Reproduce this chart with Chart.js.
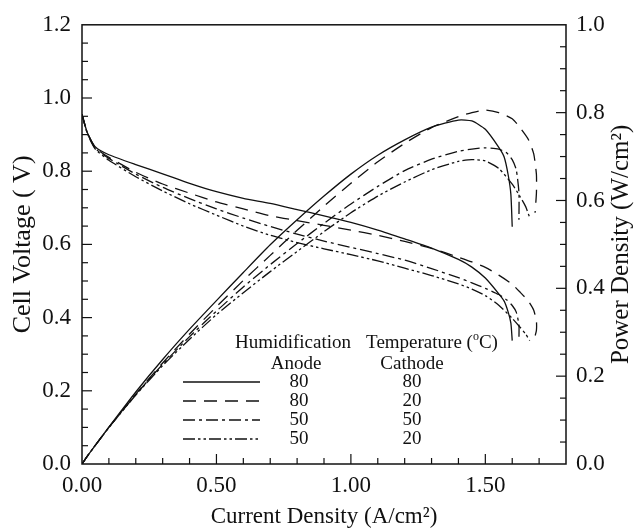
<!DOCTYPE html>
<html><head><meta charset="utf-8">
<script src="https://cdn.jsdelivr.net/npm/chart.js@4.4.1/dist/chart.umd.min.js"></script>
<style>html,body{margin:0;padding:0;background:#fff;}#wrap{width:640px;height:531px;}</style>
</head><body><div id="wrap"><canvas id="c" width="640" height="531"></canvas></div>
<script>
// ---- Data ----
// Series A: anode 80 / cathode 80 (solid)
const currentA = [0, 0.02, 0.05, 0.1, 0.2, 0.3, 0.4, 0.5, 0.6, 0.7, 0.8, 0.9, 1.0, 1.1, 1.2, 1.3, 1.4, 1.45, 1.5, 1.55, 1.57, 1.585, 1.595, 1.6];
const voltageA = [0.955, 0.905, 0.866, 0.845, 0.818, 0.793, 0.767, 0.744, 0.726, 0.712, 0.695, 0.678, 0.66, 0.639, 0.615, 0.59, 0.559, 0.538, 0.508, 0.465, 0.445, 0.415, 0.385, 0.337];
const powerA   = [0, 0.018, 0.043, 0.084, 0.164, 0.238, 0.307, 0.372, 0.436, 0.499, 0.556, 0.61, 0.66, 0.703, 0.738, 0.767, 0.783, 0.781, 0.762, 0.721, 0.699, 0.658, 0.614, 0.54];
// Series B: anode 80 / cathode 20 (dashed)
const currentB = [0, 0.02, 0.05, 0.1, 0.2, 0.3, 0.4, 0.5, 0.6, 0.7, 0.8, 0.9, 1.0, 1.1, 1.2, 1.3, 1.4, 1.45, 1.5, 1.55, 1.6, 1.63, 1.66, 1.68, 1.69, 1.69, 1.685];
const voltageB = [0.955, 0.905, 0.864, 0.838, 0.797, 0.765, 0.74, 0.716, 0.697, 0.678, 0.665, 0.652, 0.639, 0.625, 0.608, 0.589, 0.565, 0.552, 0.537, 0.516, 0.491, 0.469, 0.445, 0.42, 0.39, 0.365, 0.35];
const powerB   = [0, 0.018, 0.043, 0.084, 0.159, 0.23, 0.296, 0.358, 0.418, 0.475, 0.532, 0.587, 0.639, 0.688, 0.73, 0.766, 0.791, 0.8, 0.806, 0.8, 0.786, 0.765, 0.739, 0.706, 0.659, 0.617, 0.572];
// Series C: anode 50 / cathode 50 (dash-dot)
const currentC = [0, 0.02, 0.05, 0.1, 0.2, 0.3, 0.4, 0.5, 0.6, 0.7, 0.8, 0.9, 1.0, 1.1, 1.2, 1.3, 1.4, 1.45, 1.5, 1.55, 1.58, 1.6, 1.615, 1.625, 1.625];
const voltageC = [0.955, 0.904, 0.862, 0.835, 0.792, 0.756, 0.725, 0.697, 0.672, 0.649, 0.628, 0.609, 0.592, 0.575, 0.557, 0.534, 0.509, 0.495, 0.48, 0.463, 0.448, 0.433, 0.415, 0.38, 0.342];
const powerC   = [0, 0.018, 0.043, 0.083, 0.158, 0.227, 0.29, 0.348, 0.403, 0.454, 0.502, 0.548, 0.592, 0.632, 0.668, 0.694, 0.712, 0.717, 0.72, 0.717, 0.708, 0.693, 0.67, 0.618, 0.556];
// Series D: anode 50 / cathode 20 (dash-dot-dot)
const currentD = [0, 0.02, 0.05, 0.1, 0.2, 0.3, 0.4, 0.5, 0.6, 0.7, 0.8, 0.9, 1.0, 1.1, 1.2, 1.3, 1.4, 1.45, 1.5, 1.55, 1.6, 1.63, 1.65, 1.665];
const voltageD = [0.955, 0.903, 0.86, 0.83, 0.785, 0.746, 0.711, 0.68, 0.65, 0.625, 0.605, 0.588, 0.572, 0.555, 0.535, 0.515, 0.492, 0.478, 0.46, 0.434, 0.398, 0.373, 0.355, 0.337];
const powerD   = [0, 0.018, 0.043, 0.083, 0.157, 0.224, 0.284, 0.34, 0.39, 0.438, 0.484, 0.529, 0.572, 0.61, 0.642, 0.67, 0.689, 0.693, 0.69, 0.673, 0.637, 0.608, 0.586, 0.561];

// Axis tick labels
const xTickValues = [0, 0.5, 1.0, 1.5];
const leftTickValues = [0, 0.2, 0.4, 0.6, 0.8, 1.0, 1.2];
const rightTickValues = [0, 0.2, 0.4, 0.6, 0.8, 1.0];

// Legend table
const legendAnode = ['80', '80', '50', '50'];
const legendCathode = ['80', '20', '50', '20'];

// ---- Styles ----
const FONT = "'Liberation Serif', 'Times New Roman', serif";
const INK = '#111';
const dashStyles = [[], [13, 8], [12, 4, 3, 4], [12, 3, 2.5, 3, 2.5, 3]];

function pts(xs, ys) { return xs.map((x, i) => ({ x: x, y: ys[i] })); }

const seriesSets = [
  [currentA, voltageA, powerA],
  [currentB, voltageB, powerB],
  [currentC, voltageC, powerC],
  [currentD, voltageD, powerD]
];
const datasets = [];
seriesSets.forEach((s, i) => {
  const base = { borderColor: INK, borderWidth: 1.3, pointRadius: 0, fill: false, tension: 0.2, borderDash: dashStyles[i] };
  datasets.push(Object.assign({}, base, { data: pts(s[0], s[1]), yAxisID: 'y' }));
  datasets.push(Object.assign({}, base, { data: pts(s[0], s[2]), yAxisID: 'y1' }));
});

const frameTicks = {
  id: 'frameTicks',
  afterDatasetsDraw(chart) {
    const { ctx, chartArea: a, scales } = chart;
    ctx.save();
    ctx.strokeStyle = INK;
    ctx.lineWidth = 1.2;
    const seg = (x1, y1, x2, y2) => { ctx.beginPath(); ctx.moveTo(x1, y1); ctx.lineTo(x2, y2); ctx.stroke(); };
    for (let i = 1; i < 18; i++) {
      const px = scales.x.getPixelForValue(i / 10);
      seg(px, a.bottom, px, a.bottom - (i % 5 === 0 ? 10 : 6));
    }
    for (let i = 1; i < 24; i++) {
      const py = scales.y.getPixelForValue(i * 0.05);
      seg(a.left, py, a.left + (i % 4 === 0 ? 10 : 6), py);
    }
    for (let i = 1; i < 20; i++) {
      const py = scales.y1.getPixelForValue(i * 0.05);
      seg(a.right, py, a.right - (i % 4 === 0 ? 10 : 6), py);
    }
    ctx.lineWidth = 1.5;
    ctx.strokeRect(a.left, a.top, a.right - a.left, a.bottom - a.top);
    ctx.restore();
  }
};

const tableLegend = {
  id: 'tableLegend',
  afterDraw(chart) {
    const ctx = chart.ctx;
    const a = chart.chartArea;
    ctx.save();
    ctx.fillStyle = INK;
    ctx.strokeStyle = INK;
    // right axis title, reading bottom-to-top
    ctx.save();
    ctx.translate(621, (a.top + a.bottom) / 2);
    ctx.rotate(-Math.PI / 2);
    ctx.font = '25px ' + FONT;
    ctx.textAlign = 'center';
    ctx.textBaseline = 'middle';
    ctx.fillText('Power Density (W/cm²)', 0, 0);
    ctx.restore();

    ctx.font = '19px ' + FONT;
    ctx.textBaseline = 'middle';
    ctx.textAlign = 'center';
    ctx.fillText('Humidification', 293, 343);
    const p1 = 'Temperature (', p3 = 'C)';
    const w1 = ctx.measureText(p1).width, w3 = ctx.measureText(p3).width;
    ctx.font = '12px ' + FONT;
    const w2 = ctx.measureText('o').width;
    const total = w1 + w2 + w3;
    const x0 = 432 - total / 2;
    ctx.textAlign = 'left';
    ctx.font = '19px ' + FONT;
    ctx.fillText(p1, x0, 343);
    ctx.font = '12px ' + FONT;
    ctx.fillText('o', x0 + w1, 337);
    ctx.font = '19px ' + FONT;
    ctx.fillText(p3, x0 + w1 + w2, 343);
    ctx.textAlign = 'center';
    ctx.fillText('Anode', 296, 364);
    ctx.fillText('Cathode', 412, 364);
    const rowsY = [382, 401, 420, 439];
    rowsY.forEach((y, i) => {
      ctx.fillText(legendAnode[i], 299, y);
      ctx.fillText(legendCathode[i], 412, y);
      ctx.lineWidth = 1.3;
      ctx.setLineDash(dashStyles[i]);
      ctx.beginPath(); ctx.moveTo(183, y); ctx.lineTo(260, y); ctx.stroke();
      ctx.setLineDash([]);
    });
    ctx.restore();
  }
};

new Chart(document.getElementById('c'), {
  type: 'line',
  data: { datasets: datasets },
  options: {
    responsive: false,
    animation: false,
    devicePixelRatio: 1,
    layout: { padding: { top: 23, left: 0, right: 0, bottom: 0 } },
    plugins: { legend: { display: false }, tooltip: { enabled: false } },
    scales: {
      x: {
        type: 'linear', position: 'bottom', min: 0, max: 1.8,
        grid: { display: false, drawTicks: false }, border: { display: false },
        afterBuildTicks: s => { s.ticks = xTickValues.map(v => ({ value: v })); },
        afterFit: s => { s.height = 67; },
        ticks: { font: { family: FONT, size: 23 }, color: INK, padding: 8, maxRotation: 0, callback: v => v.toFixed(2) },
        title: { display: true, text: 'Current Density (A/cm²)', font: { family: FONT, size: 23 }, color: INK, padding: { top: 0, bottom: 0 } }
      },
      y: {
        type: 'linear', position: 'left', min: 0, max: 1.2,
        grid: { display: false, drawTicks: false }, border: { display: false },
        afterBuildTicks: s => { s.ticks = leftTickValues.map(v => ({ value: v })); },
        afterFit: s => { s.width = 82; },
        ticks: { font: { family: FONT, size: 23 }, color: INK, padding: 11, callback: v => v.toFixed(1) },
        title: { display: true, text: 'Cell Voltage ( V)', font: { family: FONT, size: 26 }, color: INK, padding: { top: 8, bottom: 0 } }
      },
      y1: {
        type: 'linear', position: 'right', min: 0, max: 1.0,
        grid: { display: false, drawTicks: false }, border: { display: false },
        afterBuildTicks: s => { s.ticks = rightTickValues.map(v => ({ value: v })); },
        afterFit: s => { s.width = 74; },
        ticks: { font: { family: FONT, size: 23 }, color: INK, padding: 10, callback: v => v.toFixed(1) },
        title: { display: false, text: 'Power Density (W/cm²)' }
      }
    }
  },
  plugins: [frameTicks, tableLegend]
});
</script>
</body></html>
